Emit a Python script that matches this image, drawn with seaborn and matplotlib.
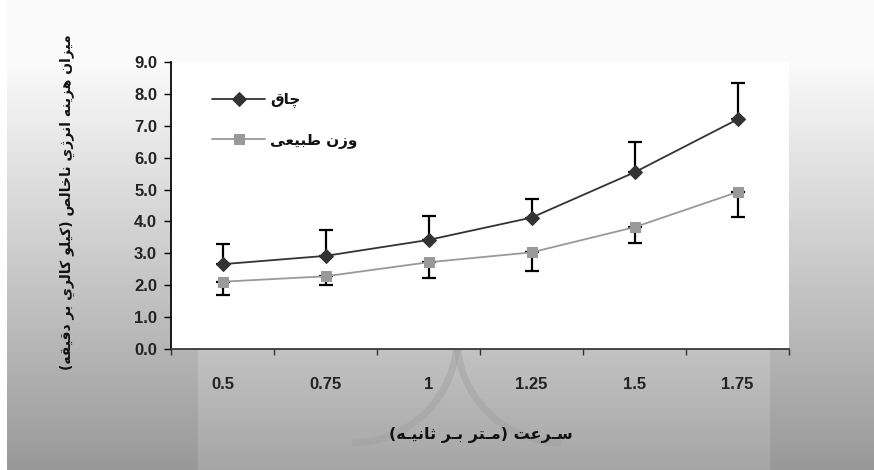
import numpy as np
import pandas as pd
import matplotlib
matplotlib.use("Agg")
import matplotlib.pyplot as plt
import seaborn as sns
from matplotlib.patches import Arc

# data
speeds = ["0.5", "0.75", "1", "1.25", "1.5", "1.75"]
obese = [2.66, 2.92, 3.42, 4.12, 5.54, 7.20]
obese_err = [0.62, 0.81, 0.75, 0.59, 0.96, 1.15]      # upper bars only
normal = [2.11, 2.28, 2.72, 3.03, 3.82, 4.92]
normal_err = [0.41, 0.27, 0.48, 0.58, 0.49, 0.79]     # lower bars only
yticks = [0, 1, 2, 3, 4, 5, 6, 7, 8, 9]

lab_obese = "چاق"
lab_normal = "وزن طبیعی"
xlabel = "سـرعت (مـتر بـر ثانیـه)"
ylabel = "میزان هزینه انرژي ناخالص (کیلو کالري بر دقیقه)"

# matplotlib has no arabic shaping -> use presentation forms + reverse
FORMS = {
    "ا": ("\uFE8D", "\uFE8E", None, None),
    "ب": ("\uFE8F", "\uFE90", "\uFE91", "\uFE92"),
    "ت": ("\uFE95", "\uFE96", "\uFE97", "\uFE98"),
    "ث": ("\uFE99", "\uFE9A", "\uFE9B", "\uFE9C"),
    "خ": ("\uFEA5", "\uFEA6", "\uFEA7", "\uFEA8"),
    "د": ("\uFEA9", "\uFEAA", None, None),
    "ر": ("\uFEAD", "\uFEAE", None, None),
    "ز": ("\uFEAF", "\uFEB0", None, None),
    "ژ": ("\uFB8A", "\uFB8B", None, None),
    "س": ("\uFEB1", "\uFEB2", "\uFEB3", "\uFEB4"),
    "ص": ("\uFEB9", "\uFEBA", "\uFEBB", "\uFEBC"),
    "ط": ("\uFEC1", "\uFEC2", "\uFEC3", "\uFEC4"),
    "ع": ("\uFEC9", "\uFECA", "\uFECB", "\uFECC"),
    "ق": ("\uFED5", "\uFED6", "\uFED7", "\uFED8"),
    "ل": ("\uFEDD", "\uFEDE", "\uFEDF", "\uFEE0"),
    "م": ("\uFEE1", "\uFEE2", "\uFEE3", "\uFEE4"),
    "ن": ("\uFEE5", "\uFEE6", "\uFEE7", "\uFEE8"),
    "ه": ("\uFEE9", "\uFEEA", "\uFEEB", "\uFEEC"),
    "و": ("\uFEED", "\uFEEE", None, None),
    "ي": ("\uFEF1", "\uFEF2", "\uFEF3", "\uFEF4"),
    "چ": ("\uFB7A", "\uFB7B", "\uFB7C", "\uFB7D"),
    "ک": ("\uFB8E", "\uFB8F", "\uFB90", "\uFB91"),
    "ی": ("\uFBFC", "\uFBFD", "\uFBFE", "\uFBFF"),
    "ـ": ("ـ", "ـ", "ـ", "ـ"),
}


def rtl(s):
    out = []
    for i, c in enumerate(s):
        if c not in FORMS:
            out.append(c)
            continue
        prev = s[i - 1] if i > 0 else ""
        nxt = s[i + 1] if i + 1 < len(s) else ""
        jp = prev in FORMS and FORMS[prev][2] is not None
        jn = FORMS[c][2] is not None and nxt in FORMS
        f = FORMS[c]
        if jp and jn:
            out.append(f[3])
        elif jp:
            out.append(f[1])
        elif jn:
            out.append(f[2])
        else:
            out.append(f[0])
    vis = "".join(reversed(out))
    return vis.translate(str.maketrans("()", ")("))


sns.set_theme(style="white")
plt.rcParams["font.family"] = ["Liberation Sans", "DejaVu Sans"]
ar_font = dict(family=["DejaVu Sans"], weight="bold")

W, H = 874, 470
fig = plt.figure(figsize=(W / 100, H / 100), dpi=100)

# gradient background + faint watermark
bg = fig.add_axes([0, 0, 1, 1], zorder=-5)
rows = np.arange(H)
col = np.where(rows < 60, 250.0, 250.0 - (rows - 60) * 98.0 / 410.0)
img = np.repeat(col[:, None], W, axis=1)
img[349:, 198:770] += 13
img[:, :7] = 255
bg.imshow(img, cmap="gray", vmin=0, vmax=255, extent=(0, W, H, 0), aspect="auto")
for cx, cy, r, t1, t2 in [(352, 338, 105, 0, 90), (562, 338, 105, 90, 180)]:
    bg.add_patch(Arc((cx, cy), 2 * r, 2 * r, theta1=t1, theta2=t2,
                     color="#a2a2a2", lw=5, alpha=0.5))
bg.set_xlim(0, W)
bg.set_ylim(H, 0)
bg.axis("off")

ax = fig.add_axes([171 / W, 1 - 349 / H, (789 - 171) / W, (349 - 62) / H])
ax.set_facecolor("white")

pos = np.arange(len(speeds))
df = pd.DataFrame({"pos": pos, "obese": obese, "normal": normal})

sns.lineplot(data=df, x="pos", y="obese", ax=ax, color="#333333", lw=1.3,
             marker="D", markersize=7, markeredgecolor="#333333",
             label=rtl(lab_obese), zorder=3)
sns.lineplot(data=df, x="pos", y="normal", ax=ax, color="#999999", lw=1.3,
             marker="s", markersize=7, markeredgecolor="#999999",
             label=rtl(lab_normal), zorder=3)

ax.errorbar(pos, obese, yerr=[np.zeros(len(pos)), obese_err], fmt="none",
            ecolor="black", elinewidth=1.6, capsize=5, capthick=1.6, zorder=2)
ax.errorbar(pos, normal, yerr=[normal_err, np.zeros(len(pos))], fmt="none",
            ecolor="black", elinewidth=1.6, capsize=5, capthick=1.6, zorder=2)

ax.set_xlim(-0.5, len(speeds) - 0.5)
ax.set_ylim(0, 9)
ax.set_xticks(pos)
ax.set_xticklabels(speeds)
ax.set_xticks(np.arange(-0.5, len(speeds)), minor=True)
ax.set_yticks(yticks)
ax.set_yticklabels([f"{v:.1f}" for v in yticks])
ax.tick_params(axis="x", which="major", length=0, pad=20, labelsize=12)
ax.tick_params(axis="x", which="minor", length=4, width=1, color="#333333",
               direction="out", bottom=True)
ax.tick_params(axis="y", length=5, width=1, color="black", direction="out",
               left=True, pad=5, labelsize=12)
for t in ax.get_xticklabels() + ax.get_yticklabels():
    t.set_fontweight("bold")
    t.set_color("#222222")
for s in ["top", "right"]:
    ax.spines[s].set_visible(False)
ax.spines["left"].set_color("black")
ax.spines["bottom"].set_color("#333333")
ax.set_xlabel("")
ax.set_ylabel("")

leg = ax.legend(loc="upper left", bbox_to_anchor=(0.066, 0.895), frameon=False,
                borderpad=0, borderaxespad=0, handlelength=3.5,
                handletextpad=0.3, labelspacing=1.6,
                prop=dict(family=["DejaVu Sans"], weight="bold", size=11))
for t in leg.get_texts():
    t.set_color("#111111")

fig.text(481 / W, 1 - 435 / H, rtl(xlabel), ha="center", va="center",
         fontsize=11.5, color="#111111", **ar_font)
fig.text(67 / W, 1 - 202 / H, rtl(ylabel), ha="center", va="center",
         rotation=90, fontsize=10, color="#111111", **ar_font)

fig.savefig("out.png", dpi=100)
